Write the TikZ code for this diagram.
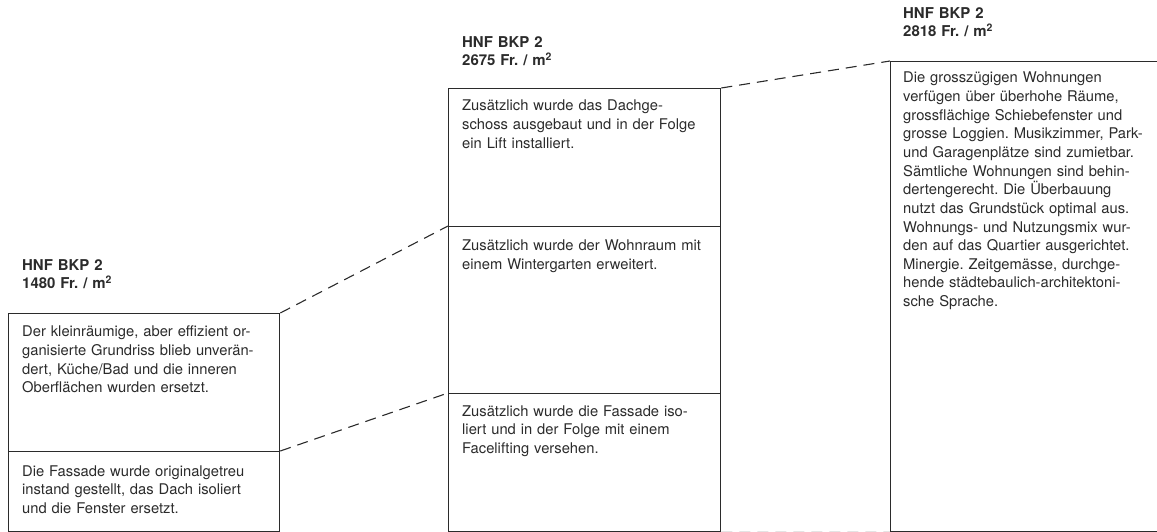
\documentclass[tikz,border=0pt]{standalone}
\usepackage{fontspec}
\setmainfont{TeX Gyre Heros}
\definecolor{ink}{HTML}{2B2B2B}
\begin{document}
\frenchspacing
\begin{tikzpicture}[x=1bp,y=-1bp,
 box/.style={draw=ink, line width=1.3bp, inner sep=0, anchor=north west},
 txt/.style={anchor=base west, inner sep=0, text width=300bp, align=left, text=ink, font=\fontsize{14.8}{18.7}\selectfont},
 head/.style={anchor=base west, inner sep=0, text width=200bp, align=left, text=ink, font=\fontsize{15}{17.5}\selectfont\bfseries},
 link/.style={draw=ink, line width=1.1bp, dash pattern=on 11bp off 7bp}]
\useasboundingbox (0,0) rectangle (1157,532);
% boxes
\node[box, minimum width=271bp, minimum height=138bp] (b1a) at (8,313) {};
\node[box, minimum width=271bp, minimum height=80bp] (b1b) at (8,451) {};
\node[box, minimum width=272bp, minimum height=138bp] (b2a) at (448,88) {};
\node[box, minimum width=272bp, minimum height=167bp] (b2b) at (448,226) {};
\node[box, minimum width=272bp, minimum height=138bp] (b2c) at (448,393) {};
\node[box, minimum width=272bp, minimum height=470bp] (b3) at (890,61) {};
% headings
\node[head] (h1) at (22,271) {HNF BKP 2\\1480 Fr. / m\textsuperscript{2}};
\node[head] (h2) at (462,48) {HNF BKP 2\\2675 Fr. / m\textsuperscript{2}};
\node[head] (h3) at (903,19) {HNF BKP 2\\2818 Fr. / m\textsuperscript{2}};
% texts
\node[txt] (t1a) at (22,337) {Der kleinräumige, aber effizient or-\\ganisierte Grundriss blieb unverän-\\dert, Küche/Bad und die inneren\\Oberflächen wurden ersetzt.};
\node[txt] (t1b) at (22,476) {Die Fassade wurde originalgetreu\\instand gestellt, das Dach isoliert\\und die Fenster ersetzt.};
\node[txt] (t2a) at (462,111) {Zusätzlich wurde das Dachge-\\schoss ausgebaut und in der Folge\\ein Lift installiert.};
\node[txt] (t2b) at (462,251) {Zusätzlich wurde der Wohnraum mit\\einem Wintergarten erweitert.};
\node[txt] (t2c) at (462,416) {Zusätzlich wurde die Fassade iso-\\liert und in der Folge mit einem\\Facelifting versehen.};
\node[txt] (t3) at (903,83) {Die grosszügigen Wohnungen\\verfügen über überhohe Räume,\\grossflächige Schiebefenster und\\grosse Loggien. Musikzimmer, Park-\\und Garagenplätze sind zumietbar.\\Sämtliche Wohnungen sind behin-\\dertengerecht. Die Überbauung\\nutzt das Grundstück optimal aus.\\Wohnungs- und Nutzungsmix wur-\\den auf das Quartier ausgerichtet.\\Minergie. Zeitgemässe, durchge-\\hende städtebaulich-architektoni-\\sche Sprache.};
% connectors
\draw[link] (b1a.north east) -- (b2b.north west);
\draw[link] (b1b.north east) -- (b2c.north west);
\draw[link] (b2a.north east) -- (b3.north west);
\draw[link] (b2c.south east) -- (b3.south west);
\end{tikzpicture}
\end{document}
